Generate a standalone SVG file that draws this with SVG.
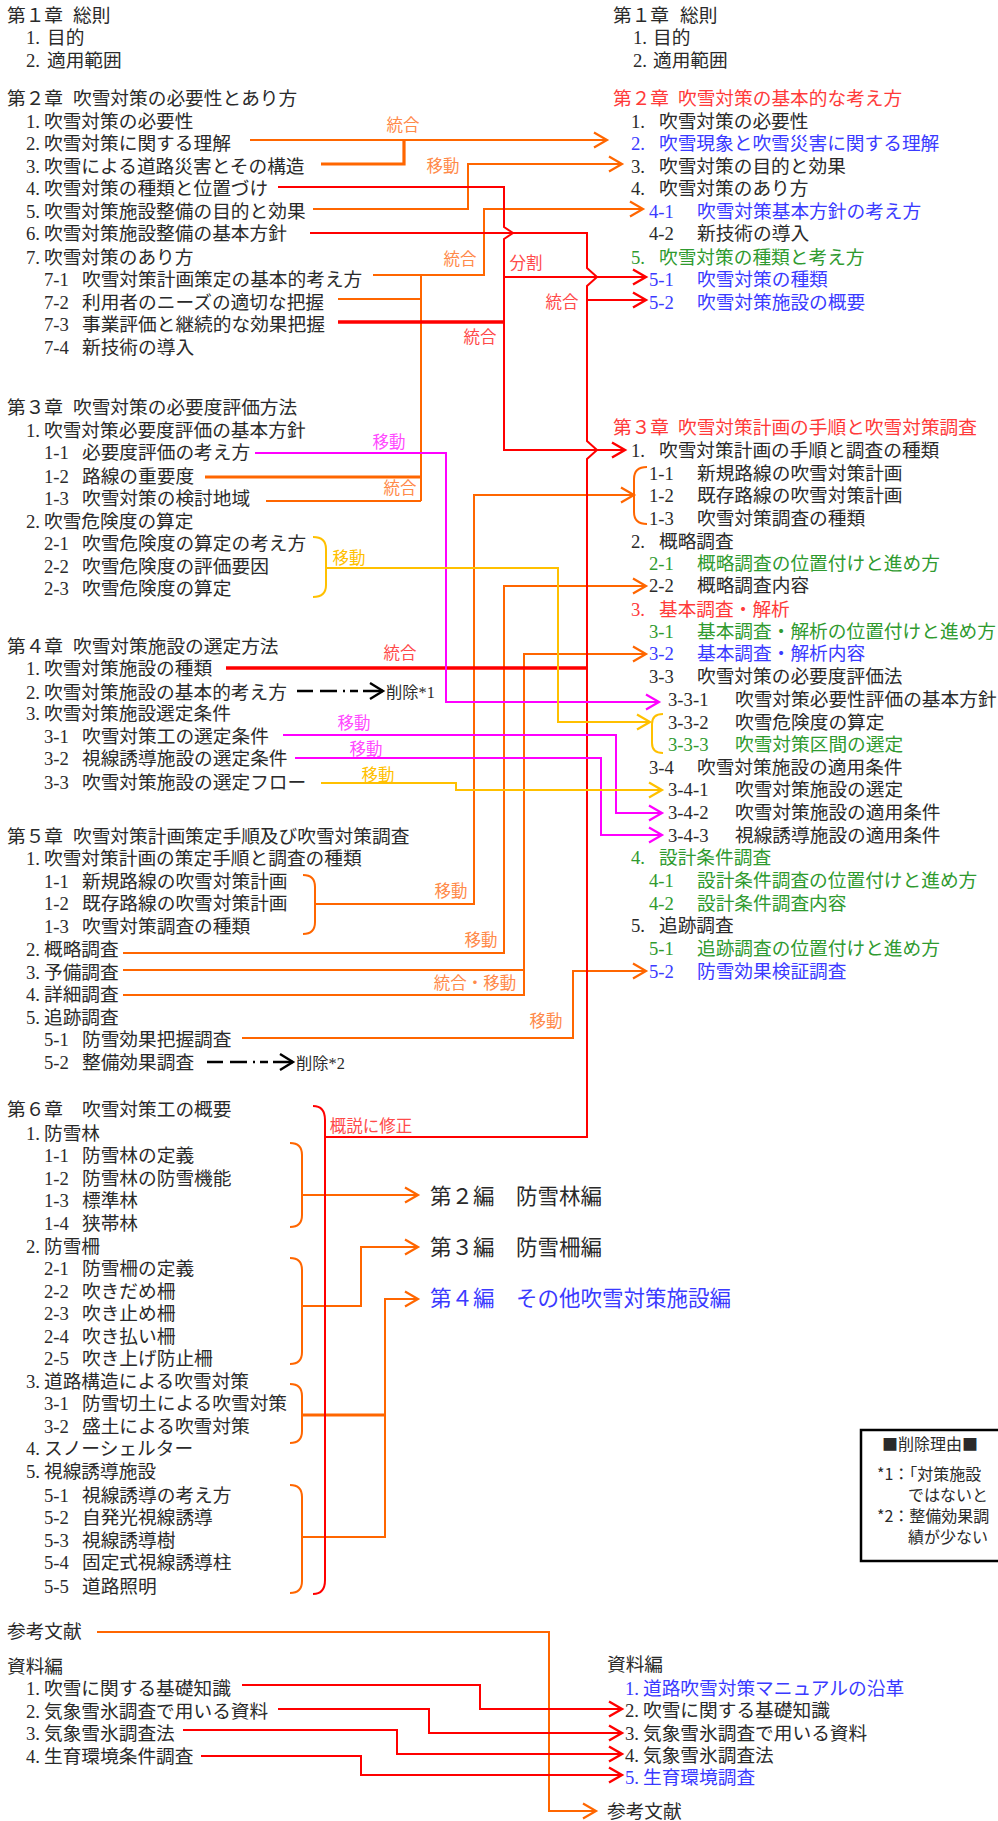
<svg xmlns="http://www.w3.org/2000/svg" width="998" height="1821" viewBox="0 0 998 1821">
<style>
text{font-family:"Liberation Serif","Noto Sans CJK JP",serif;font-size:18.7px;fill:#2a2a2a}
.r{fill:#ff3a3a}.b{fill:#3a3aff}.g{fill:#2f9a2f}
.big{font-size:21.5px}
.lb{font-size:16.5px;text-anchor:middle}
.lo{fill:#ff8a4a}.lr{fill:#ff4a4a}.lm{fill:#ff4aff}.ly{fill:#ffc000}
.sm{font-size:16.3px}
.nt{font-family:"Noto Sans CJK JP",sans-serif;font-size:16px}
.o,.ot,.rd,.rt,.m,.y,.k{fill:none;stroke-linejoin:miter}
.o{stroke:#ff6600;stroke-width:2}
.ot{stroke:#ff6600;stroke-width:3.2}
.rd{stroke:#ff0000;stroke-width:2}
.rt{stroke:#ff0000;stroke-width:3.4}
.m{stroke:#ff00ff;stroke-width:2}
.y{stroke:#ffc000;stroke-width:2}
.k{stroke:#000;stroke-width:2.4;stroke-dasharray:16 7 17 6 2 5 8 5 22}
</style>
<defs>
<marker id="ao" markerUnits="userSpaceOnUse" markerWidth="20" markerHeight="20" viewBox="-16 -10 20 20" refX="0" refY="0" orient="auto"><path d="M-13,-7.5 L0,0 L-13,7.5" fill="none" stroke="#ff6600" stroke-width="2.2"/></marker>
<marker id="ar" markerUnits="userSpaceOnUse" markerWidth="20" markerHeight="20" viewBox="-16 -10 20 20" refX="0" refY="0" orient="auto"><path d="M-13,-7.5 L0,0 L-13,7.5" fill="none" stroke="#ff0000" stroke-width="2.4"/></marker>
<marker id="am" markerUnits="userSpaceOnUse" markerWidth="20" markerHeight="20" viewBox="-16 -10 20 20" refX="0" refY="0" orient="auto"><path d="M-13,-7.5 L0,0 L-13,7.5" fill="none" stroke="#ff00ff" stroke-width="2.2"/></marker>
<marker id="ay" markerUnits="userSpaceOnUse" markerWidth="20" markerHeight="20" viewBox="-16 -10 20 20" refX="0" refY="0" orient="auto"><path d="M-13,-7.5 L0,0 L-13,7.5" fill="none" stroke="#ffc000" stroke-width="2.2"/></marker>
<marker id="ak" markerUnits="userSpaceOnUse" markerWidth="20" markerHeight="20" viewBox="-16 -10 20 20" refX="0" refY="0" orient="auto"><path d="M-13,-8 L0,0 L-13,8" fill="none" stroke="#000" stroke-width="2.4"/></marker>
</defs>
<rect width="998" height="1821" fill="#fff"/>

<g id="connectors">
<path class="o" d="M250,140 H607" marker-end="url(#ao)"/>
<path class="ot" d="M321,164 H404 V140"/>
<path class="o" d="M313,209 H468 V164 H622" marker-end="url(#ao)"/>
<path class="o" d="M373,275 H484 V209 H643" marker-end="url(#ao)"/>
<path class="o" d="M338,299 H421"/>
<path class="o" d="M421,275 V501"/>
<path class="ot" d="M205,477 H421"/>
<path class="o" d="M266,501 H421"/>
<path class="o" d="M315,904 H474 V495 H634" marker-end="url(#ao)"/>
<path class="o" d="M123,953 H504 V586 H646" marker-end="url(#ao)"/>
<path class="o" d="M123,970 H524"/>
<path class="o" d="M123,995 H524 V654 H646" marker-end="url(#ao)"/>
<path class="o" d="M242,1038 H573 V971 H646" marker-end="url(#ao)"/>
<path class="o" d="M302,1195 H418" marker-end="url(#ao)"/>
<path class="o" d="M302,1306 H361 V1247 H418" marker-end="url(#ao)"/>
<path class="ot" d="M302,1415 H385"/>
<path class="o" d="M302,1537 H385 V1299 H418" marker-end="url(#ao)"/>
<path class="o" d="M97,1632 H549 V1811 H596" marker-end="url(#ao)"/>
<path class="o" d="M303,875 Q315,875 315,887 V922 Q315,934 303,934"/>
<path class="o" d="M290,1143 Q302,1143 302,1155 V1215 Q302,1227 290,1227"/>
<path class="o" d="M290,1258 Q302,1258 302,1270 V1352 Q302,1364 290,1364"/>
<path class="o" d="M290,1384 Q302,1384 302,1396 V1431 Q302,1443 290,1443"/>
<path class="o" d="M290,1485 Q302,1485 302,1497 V1581 Q302,1593 290,1593"/>
<path class="o" d="M647,467 Q634,467 634,479 V512 Q634,524 647,524"/>
<path class="rd" d="M278,187 H504 V227 L513,233 L504,239 V450 H625" marker-end="url(#ar)"/>
<path class="rd" d="M504,277 H646" marker-end="url(#ar)"/>
<path class="rt" d="M338,322 H504"/>
<path class="rd" d="M310,233 H587 V268 L597,277 L587,286 V441 L597,450 L587,459 V1137 H325"/>
<path class="rd" d="M587,300 H646" marker-end="url(#ar)"/>
<path class="rt" d="M226,668 H587"/>
<path class="rd" d="M313,1106 Q325,1106 325,1120 V1580 Q325,1594 313,1594"/>
<path class="rd" d="M242,1685 H480 V1709 H622" marker-end="url(#ar)"/>
<path class="rd" d="M278,1709 H429 V1733 H622" marker-end="url(#ar)"/>
<path class="rd" d="M183,1730 H397 V1754 H622" marker-end="url(#ar)"/>
<path class="rd" d="M201,1756 H361 V1775 H622" marker-end="url(#ar)"/>
<path class="m" d="M255,453 H446 V702 H659" marker-end="url(#am)"/>
<path class="m" d="M283,735 H616 V813 H662" marker-end="url(#am)"/>
<path class="m" d="M295,758 H601 V835 H662" marker-end="url(#am)"/>
<path class="y" d="M313,537 Q326,537 326,549 V585 Q326,597 313,597"/>
<path class="y" d="M326,568 H558 V722 H650" marker-end="url(#ay)"/>
<path class="y" d="M321,783 H456 V790 H662" marker-end="url(#ay)"/>
<path class="y" d="M663,714 Q652,714 652,724 V743 Q652,753 663,753"/>
<path class="k" d="M297,691 H383" marker-end="url(#ak)"/>
<path class="k" d="M207,1062 H293" marker-end="url(#ak)"/>
<text class="lb lo" x="403" y="131">統合</text>
<text class="lb lo" x="443" y="172">移動</text>
<text class="lb lo" x="460" y="265">統合</text>
<text class="lb lr" x="480" y="343">統合</text>
<text class="lb lr" x="526" y="269">分割</text>
<text class="lb lr" x="562" y="308">統合</text>
<text class="lb lm" x="389" y="448">移動</text>
<text class="lb lo" x="400" y="494">統合</text>
<text class="lb ly" x="349" y="564">移動</text>
<text class="lb lr" x="400" y="659">統合</text>
<text class="lb lm" x="354" y="729">移動</text>
<text class="lb lm" x="366" y="755">移動</text>
<text class="lb ly" x="378" y="781">移動</text>
<text class="lb lo" x="451" y="897">移動</text>
<text class="lb lo" x="481" y="946">移動</text>
<text class="lb lo" x="475" y="989">統合・移動</text>
<text class="lb lo" x="546" y="1027">移動</text>
<text class="lb lr" x="371" y="1132">概説に修正</text>
<text class="sm" x="386" y="698">削除*1</text>
<text class="sm" x="296" y="1069">削除*2</text>
</g>

<g id="L1"><text x="7" y="22">第１章<tspan x="73">総則</tspan></text></g>
<g id="L1-1"><text x="26" y="44">1.<tspan x="47">目的</tspan></text></g>
<g id="L1-2"><text x="26" y="67">2.<tspan x="47">適用範囲</tspan></text></g>

<g id="L2"><text x="7" y="105">第２章<tspan x="73">吹雪対策の必要性とあり方</tspan></text></g>
<g id="L2-1"><text x="26" y="128">1.<tspan x="44">吹雪対策の必要性</tspan></text></g>
<g id="L2-2"><text x="26" y="150">2.<tspan x="44">吹雪対策に関する理解</tspan></text></g>
<g id="L2-3"><text x="26" y="173">3.<tspan x="44">吹雪による道路災害とその構造</tspan></text></g>
<g id="L2-4"><text x="26" y="195">4.<tspan x="44">吹雪対策の種類と位置づけ</tspan></text></g>
<g id="L2-5"><text x="26" y="218">5.<tspan x="44">吹雪対策施設整備の目的と効果</tspan></text></g>
<g id="L2-6"><text x="26" y="240">6.<tspan x="44">吹雪対策施設整備の基本方針</tspan></text></g>
<g id="L2-7"><text x="26" y="264">7.<tspan x="44">吹雪対策のあり方</tspan></text></g>
<g id="L2-7-1"><text x="44" y="286">7-1<tspan x="82">吹雪対策計画策定の基本的考え方</tspan></text></g>
<g id="L2-7-2"><text x="44" y="309">7-2<tspan x="82">利用者のニーズの適切な把握</tspan></text></g>
<g id="L2-7-3"><text x="44" y="331">7-3<tspan x="82">事業評価と継続的な効果把握</tspan></text></g>
<g id="L2-7-4"><text x="44" y="354">7-4<tspan x="82">新技術の導入</tspan></text></g>

<g id="L3"><text x="7" y="414">第３章<tspan x="73">吹雪対策の必要度評価方法</tspan></text></g>
<g id="L3-1"><text x="26" y="437">1.<tspan x="44">吹雪対策必要度評価の基本方針</tspan></text></g>
<g id="L3-1-1"><text x="44" y="459">1-1<tspan x="82">必要度評価の考え方</tspan></text></g>
<g id="L3-1-2"><text x="44" y="483">1-2<tspan x="82">路線の重要度</tspan></text></g>
<g id="L3-1-3"><text x="44" y="505">1-3<tspan x="82">吹雪対策の検討地域</tspan></text></g>
<g id="L3-2"><text x="26" y="528">2.<tspan x="44">吹雪危険度の算定</tspan></text></g>
<g id="L3-2-1"><text x="44" y="550">2-1<tspan x="82">吹雪危険度の算定の考え方</tspan></text></g>
<g id="L3-2-2"><text x="44" y="573">2-2<tspan x="82">吹雪危険度の評価要因</tspan></text></g>
<g id="L3-2-3"><text x="44" y="595">2-3<tspan x="82">吹雪危険度の算定</tspan></text></g>

<g id="L4"><text x="7" y="653">第４章<tspan x="73">吹雪対策施設の選定方法</tspan></text></g>
<g id="L4-1"><text x="26" y="675">1.<tspan x="44">吹雪対策施設の種類</tspan></text></g>
<g id="L4-2"><text x="26" y="699">2.<tspan x="44">吹雪対策施設の基本的考え方</tspan></text></g>
<g id="L4-3"><text x="26" y="720">3.<tspan x="44">吹雪対策施設選定条件</tspan></text></g>
<g id="L4-3-1"><text x="44" y="743">3-1<tspan x="82">吹雪対策工の選定条件</tspan></text></g>
<g id="L4-3-2"><text x="44" y="765">3-2<tspan x="82">視線誘導施設の選定条件</tspan></text></g>
<g id="L4-3-3"><text x="44" y="789">3-3<tspan x="82">吹雪対策施設の選定フロー</tspan></text></g>

<g id="L5"><text x="7" y="843">第５章<tspan x="73">吹雪対策計画策定手順及び吹雪対策調査</tspan></text></g>
<g id="L5-1"><text x="26" y="865">1.<tspan x="44">吹雪対策計画の策定手順と調査の種類</tspan></text></g>
<g id="L5-1-1"><text x="44" y="888">1-1<tspan x="82">新規路線の吹雪対策計画</tspan></text></g>
<g id="L5-1-2"><text x="44" y="910">1-2<tspan x="82">既存路線の吹雪対策計画</tspan></text></g>
<g id="L5-1-3"><text x="44" y="933">1-3<tspan x="82">吹雪対策調査の種類</tspan></text></g>
<g id="L5-2"><text x="26" y="956">2.<tspan x="44">概略調査</tspan></text></g>
<g id="L5-3"><text x="26" y="979">3.<tspan x="44">予備調査</tspan></text></g>
<g id="L5-4"><text x="26" y="1001">4.<tspan x="44">詳細調査</tspan></text></g>
<g id="L5-5"><text x="26" y="1024">5.<tspan x="44">追跡調査</tspan></text></g>
<g id="L5-5-1"><text x="44" y="1046">5-1<tspan x="82">防雪効果把握調査</tspan></text></g>
<g id="L5-5-2"><text x="44" y="1069">5-2<tspan x="82">整備効果調査</tspan></text></g>

<g id="L6"><text x="7" y="1116">第６章<tspan x="82">吹雪対策工の概要</tspan></text></g>
<g id="L6-1"><text x="26" y="1140">1.<tspan x="44">防雪林</tspan></text></g>
<g id="L6-1-1"><text x="44" y="1162">1-1<tspan x="82">防雪林の定義</tspan></text></g>
<g id="L6-1-2"><text x="44" y="1185">1-2<tspan x="82">防雪林の防雪機能</tspan></text></g>
<g id="L6-1-3"><text x="44" y="1207">1-3<tspan x="82">標準林</tspan></text></g>
<g id="L6-1-4"><text x="44" y="1230">1-4<tspan x="82">狭帯林</tspan></text></g>
<g id="L6-2"><text x="26" y="1253">2.<tspan x="44">防雪柵</tspan></text></g>
<g id="L6-2-1"><text x="44" y="1275">2-1<tspan x="82">防雪柵の定義</tspan></text></g>
<g id="L6-2-2"><text x="44" y="1298">2-2<tspan x="82">吹きだめ柵</tspan></text></g>
<g id="L6-2-3"><text x="44" y="1320">2-3<tspan x="82">吹き止め柵</tspan></text></g>
<g id="L6-2-4"><text x="44" y="1343">2-4<tspan x="82">吹き払い柵</tspan></text></g>
<g id="L6-2-5"><text x="44" y="1365">2-5<tspan x="82">吹き上げ防止柵</tspan></text></g>
<g id="L6-3"><text x="26" y="1388">3.<tspan x="44">道路構造による吹雪対策</tspan></text></g>
<g id="L6-3-1"><text x="44" y="1410">3-1<tspan x="82">防雪切土による吹雪対策</tspan></text></g>
<g id="L6-3-2"><text x="44" y="1433">3-2<tspan x="82">盛土による吹雪対策</tspan></text></g>
<g id="L6-4"><text x="26" y="1455">4.<tspan x="44">スノーシェルター</tspan></text></g>
<g id="L6-5"><text x="26" y="1478">5.<tspan x="44">視線誘導施設</tspan></text></g>
<g id="L6-5-1"><text x="44" y="1502">5-1<tspan x="82">視線誘導の考え方</tspan></text></g>
<g id="L6-5-2"><text x="44" y="1524">5-2<tspan x="82">自発光視線誘導</tspan></text></g>
<g id="L6-5-3"><text x="44" y="1547">5-3<tspan x="82">視線誘導樹</tspan></text></g>
<g id="L6-5-4"><text x="44" y="1569">5-4<tspan x="82">固定式視線誘導柱</tspan></text></g>
<g id="L6-5-5"><text x="44" y="1593">5-5<tspan x="82">道路照明</tspan></text></g>

<g id="Lref"><text x="7" y="1638">参考文献</text></g>
<g id="Lapp"><text x="7" y="1673">資料編</text></g>
<g id="Lapp-1"><text x="26" y="1695">1.<tspan x="44">吹雪に関する基礎知識</tspan></text></g>
<g id="Lapp-2"><text x="26" y="1718">2.<tspan x="44">気象雪氷調査で用いる資料</tspan></text></g>
<g id="Lapp-3"><text x="26" y="1740">3.<tspan x="44">気象雪氷調査法</tspan></text></g>
<g id="Lapp-4"><text x="26" y="1763">4.<tspan x="44">生育環境条件調査</tspan></text></g>

<g id="R1"><text x="613" y="22">第１章<tspan x="680">総則</tspan></text></g>
<g id="R1-1"><text x="633" y="44">1.<tspan x="653">目的</tspan></text></g>
<g id="R1-2"><text x="633" y="67">2.<tspan x="653">適用範囲</tspan></text></g>

<g id="R2"><text class="r" x="613" y="105">第２章<tspan x="678">吹雪対策の基本的な考え方</tspan></text></g>
<g id="R2-1"><text x="631" y="128">1.<tspan x="659">吹雪対策の必要性</tspan></text></g>
<g id="R2-2"><text class="b" x="631" y="150">2.<tspan x="659">吹雪現象と吹雪災害に関する理解</tspan></text></g>
<g id="R2-3"><text x="631" y="173">3.<tspan x="659">吹雪対策の目的と効果</tspan></text></g>
<g id="R2-4"><text x="631" y="195">4.<tspan x="659">吹雪対策のあり方</tspan></text></g>
<g id="R2-4-1"><text class="b" x="649" y="218">4-1<tspan x="697">吹雪対策基本方針の考え方</tspan></text></g>
<g id="R2-4-2"><text x="649" y="240">4-2<tspan x="697">新技術の導入</tspan></text></g>
<g id="R2-5"><text class="g" x="631" y="264">5.<tspan x="659">吹雪対策の種類と考え方</tspan></text></g>
<g id="R2-5-1"><text class="b" x="649" y="286">5-1<tspan x="697">吹雪対策の種類</tspan></text></g>
<g id="R2-5-2"><text class="b" x="649" y="309">5-2<tspan x="697">吹雪対策施設の概要</tspan></text></g>

<g id="R3"><text class="r" x="613" y="434">第３章<tspan x="678">吹雪対策計画の手順と吹雪対策調査</tspan></text></g>
<g id="R3-1"><text x="631" y="457">1.<tspan x="659">吹雪対策計画の手順と調査の種類</tspan></text></g>
<g id="R3-1-1"><text x="649" y="480">1-1<tspan x="697">新規路線の吹雪対策計画</tspan></text></g>
<g id="R3-1-2"><text x="649" y="502">1-2<tspan x="697">既存路線の吹雪対策計画</tspan></text></g>
<g id="R3-1-3"><text x="649" y="525">1-3<tspan x="697">吹雪対策調査の種類</tspan></text></g>
<g id="R3-2"><text x="631" y="548">2.<tspan x="659">概略調査</tspan></text></g>
<g id="R3-2-1"><text class="g" x="649" y="570">2-1<tspan x="697">概略調査の位置付けと進め方</tspan></text></g>
<g id="R3-2-2"><text x="649" y="592">2-2<tspan x="697">概略調査内容</tspan></text></g>
<g id="R3-3"><text class="r" x="631" y="616">3.<tspan x="659">基本調査・解析</tspan></text></g>
<g id="R3-3-1"><text class="g" x="649" y="638">3-1<tspan x="697">基本調査・解析の位置付けと進め方</tspan></text></g>
<g id="R3-3-2"><text class="b" x="649" y="660">3-2<tspan x="697">基本調査・解析内容</tspan></text></g>
<g id="R3-3-3"><text x="649" y="683">3-3<tspan x="697">吹雪対策の必要度評価法</tspan></text></g>
<g id="R3-3-3-1"><text x="668" y="706">3-3-1<tspan x="735">吹雪対策必要性評価の基本方針</tspan></text></g>
<g id="R3-3-3-2"><text x="668" y="729">3-3-2<tspan x="735">吹雪危険度の算定</tspan></text></g>
<g id="R3-3-3-3"><text class="g" x="668" y="751">3-3-3<tspan x="735">吹雪対策区間の選定</tspan></text></g>
<g id="R3-3-4"><text x="649" y="774">3-4<tspan x="697">吹雪対策施設の適用条件</tspan></text></g>
<g id="R3-3-4-1"><text x="668" y="796">3-4-1<tspan x="735">吹雪対策施設の選定</tspan></text></g>
<g id="R3-3-4-2"><text x="668" y="819">3-4-2<tspan x="735">吹雪対策施設の適用条件</tspan></text></g>
<g id="R3-3-4-3"><text x="668" y="842">3-4-3<tspan x="735">視線誘導施設の適用条件</tspan></text></g>
<g id="R3-4"><text class="g" x="631" y="864">4.<tspan x="659">設計条件調査</tspan></text></g>
<g id="R3-4-1"><text class="g" x="649" y="887">4-1<tspan x="697">設計条件調査の位置付けと進め方</tspan></text></g>
<g id="R3-4-2"><text class="g" x="649" y="910">4-2<tspan x="697">設計条件調査内容</tspan></text></g>
<g id="R3-5"><text x="631" y="932">5.<tspan x="659">追跡調査</tspan></text></g>
<g id="R3-5-1"><text class="g" x="649" y="955">5-1<tspan x="697">追跡調査の位置付けと進め方</tspan></text></g>
<g id="R3-5-2"><text class="b" x="649" y="978">5-2<tspan x="697">防雪効果検証調査</tspan></text></g>

<g id="Rv2"><text class="big" x="430" y="1204">第２編　防雪林編</text></g>
<g id="Rv3"><text class="big" x="430" y="1255">第３編　防雪柵編</text></g>
<g id="Rv4"><text class="big b" x="430" y="1306">第４編　その他吹雪対策施設編</text></g>

<g id="Rapp"><text x="607" y="1671">資料編</text></g>
<g id="Rapp-1"><text class="b" x="625" y="1695">1.<tspan x="643">道路吹雪対策マニュアルの沿革</tspan></text></g>
<g id="Rapp-2"><text x="625" y="1717">2.<tspan x="643">吹雪に関する基礎知識</tspan></text></g>
<g id="Rapp-3"><text x="625" y="1740">3.<tspan x="643">気象雪氷調査で用いる資料</tspan></text></g>
<g id="Rapp-4"><text x="625" y="1762">4.<tspan x="643">気象雪氷調査法</tspan></text></g>
<g id="Rapp-5"><text class="b" x="625" y="1784">5.<tspan x="643">生育環境調査</tspan></text></g>
<g id="Rref"><text x="607" y="1818">参考文献</text></g>

<g id="note">
<rect x="861" y="1430" width="150" height="131" fill="none" stroke="#000" stroke-width="2.5"/>
<text class="nt" x="882" y="1450">■削除理由■</text>
<text class="nt" x="877" y="1480">*1：「対策施設</text>
<text class="nt" x="908" y="1501">ではないと</text>
<text class="nt" x="877" y="1522">*2：整備効果調</text>
<text class="nt" x="908" y="1543">績が少ない</text>
</g>
</svg>
